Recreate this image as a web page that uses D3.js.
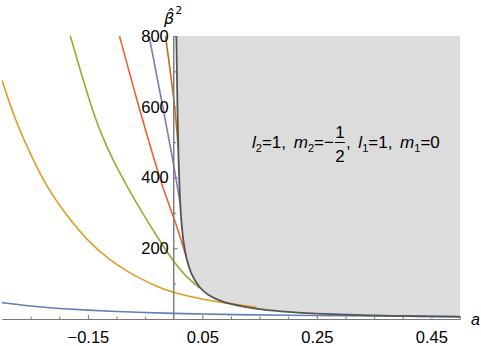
<!DOCTYPE html>
<html>
<head>
<meta charset="utf-8">
<script src="https://cdn.jsdelivr.net/npm/d3@7"></script>
<style>
  body { margin: 0; background: #fff; }
  svg { display: block; font-family: "Liberation Sans", Arial, sans-serif; }
</style>
</head>
<body>
<div id="chart"></div>
<script>
// curves: [a, beta^2]
const blueCurve = [[-0.3, 46], [-0.25, 36], [-0.2, 29.5], [-0.15, 25], [-0.1, 21], [-0.05, 18], [0, 16],
  [0.05, 14], [0.1, 12.5], [0.2, 10.5], [0.3, 9], [0.4, 7.5], [0.5, 6.5]];
const orangeCurve = [[-0.3, 675], [-0.277, 562], [-0.25, 465], [-0.22, 366], [-0.18, 278], [-0.146, 214],
  [-0.114, 169], [-0.08, 133], [-0.059, 115], [-0.03, 92], [0, 74], [0.045, 57], [0.09, 45], [0.13, 36], [0.145, 33]];
const greenCurve = [[-0.181, 802], [-0.169, 735], [-0.146, 610], [-0.13, 535], [-0.108, 454], [-0.0795, 369],
  [-0.055, 300], [-0.03, 235], [0.0005, 160], [0.02, 122], [0.045, 88]];
const redCurve = [[-0.0951, 802], [-0.08, 712], [-0.062, 605], [-0.036, 460], [-0.018, 365], [0.0017, 280],
  [0.012, 227], [0.022, 176]];
const purpleCurve = [[-0.0431, 800], [-0.0222, 626], [-0.0012, 449], [0.011, 328]];
const brownCurve = [[-0.0145, 802], [-0.0061, 700], [0.0022, 599], [0.0079, 483]];
const envelope = [[0.0045, 800], [0.0055, 700], [0.0065, 590], [0.0078, 480], [0.0105, 345], [0.0134, 270],
  [0.017, 215], [0.022, 170], [0.03, 127], [0.045, 87], [0.06, 67], [0.08, 52], [0.1, 42], [0.12, 35],
  [0.15, 27], [0.2, 19.5], [0.25, 15], [0.3, 12], [0.35, 10], [0.4, 8.5], [0.45, 7.3], [0.5, 6.3]];

const xMajor = [-0.15, 0.05, 0.25, 0.45];
const xMinor = [-0.25, -0.2, -0.1, -0.05, 0.1, 0.15, 0.2, 0.3, 0.35, 0.4, 0.5];
const yMajor = [200, 400, 600, 800];
const yMinor = [100, 300, 500, 700];

const series = [
  { pts: blueCurve, color: '#5E81B5' },
  { pts: orangeCurve, color: '#E19C24' },
  { pts: greenCurve, color: '#8FB032' },
  { pts: redCurve, color: '#EB6235' },
  { pts: purpleCurve, color: '#8778B3' },
  { pts: brownCurve, color: '#C56E1A' }
];

const width = 481, height = 346;
const x = d3.scaleLinear().domain([-0.3, 0.5]).range([2, 460]);
const y = d3.scaleLinear().domain([0, 800]).range([319, 36]);

const svg = d3.select('#chart').append('svg')
  .attr('width', width)
  .attr('height', height);

svg.append('clipPath').attr('id', 'plot')
  .append('rect')
  .attr('x', x(-0.3)).attr('y', y(800))
  .attr('width', x(0.5) - x(-0.3)).attr('height', y(0) - y(800));

// shaded region above the envelope
const area = d3.area()
  .x(d => x(d[0]))
  .y0(y(800))
  .y1(d => y(d[1]))
  .curve(d3.curveBasis);

svg.append('path')
  .datum(envelope)
  .attr('clip-path', 'url(#plot)')
  .attr('fill', '#dcdcdc')
  .attr('d', area);

const line = d3.line()
  .x(d => x(d[0]))
  .y(d => y(d[1]))
  .curve(d3.curveBasis);

const plot = svg.append('g').attr('clip-path', 'url(#plot)');

plot.selectAll('path.curve')
  .data(series)
  .enter()
  .append('path')
  .attr('class', 'curve')
  .attr('fill', 'none')
  .attr('stroke', d => d.color)
  .attr('stroke-width', 1.6)
  .attr('d', d => line(d.pts));

plot.append('path')
  .datum(envelope)
  .attr('fill', 'none')
  .attr('stroke', '#555')
  .attr('stroke-width', 1.8)
  .attr('d', line);

// axes, ticks pointing inward like Mathematica
const axisColor = '#777';

const xAxis = svg.append('g').attr('transform', `translate(0,${y(0)})`);
xAxis.call(d3.axisBottom(x).tickValues(xMajor).tickSizeInner(-4).tickSizeOuter(0)
  .tickPadding(12).tickFormat(d3.format('.2f')));
xAxis.append('g').call(d3.axisBottom(x).tickValues(xMinor).tickSizeInner(-2.5).tickSizeOuter(0)
  .tickFormat(''));

const yAxis = svg.append('g').attr('transform', `translate(${x(0)},0)`);
yAxis.call(d3.axisLeft(y).tickValues(yMajor).tickSizeInner(-4).tickSizeOuter(0).tickPadding(5));
yAxis.append('g').call(d3.axisLeft(y).tickValues(yMinor).tickSizeInner(-2.5).tickSizeOuter(0)
  .tickFormat(''));

svg.selectAll('.domain').attr('stroke', axisColor);
svg.selectAll('.tick line').attr('stroke', axisColor);
svg.selectAll('.tick text').attr('font-size', 16.5).attr('fill', '#000')
  .style('font-family', '"Liberation Sans", Arial, sans-serif');
yAxis.selectAll('.domain').attr('d', `M0,${y(0)}V${y(800)}`);

// axis titles
svg.append('text')
  .attr('x', 471).attr('y', 325)
  .attr('font-size', 16).attr('font-style', 'italic')
  .text('a');

const yTitle = svg.append('text')
  .attr('x', 164).attr('y', 24)
  .style('font-family', '"DejaVu Sans", sans-serif')
  .attr('font-size', 16);
yTitle.append('tspan').attr('font-style', 'italic').text('β\u0302');
yTitle.append('tspan').attr('font-size', 11).attr('dx', 1).attr('dy', -10).text('2');

// parameter label
const label = svg.append('g').attr('font-size', 17);
const part1 = label.append('text').attr('x', 252).attr('y', 148);
part1.append('tspan').attr('font-style', 'italic').text('l');
part1.append('tspan').attr('font-size', 11).attr('dy', 4).text('2');
part1.append('tspan').attr('dy', -4).text('=1,\u00a0');
part1.append('tspan').attr('dx', 3).attr('font-style', 'italic').text('m');
part1.append('tspan').attr('font-size', 11).attr('dy', 4).text('2');
part1.append('tspan').attr('dy', -4).text('=−');

const fx = 252 + part1.node().getComputedTextLength() + 4;
label.append('text').attr('x', fx + 5).attr('y', 138).attr('text-anchor', 'middle').text('1');
label.append('line')
  .attr('x1', fx).attr('x2', fx + 10)
  .attr('y1', 142.5).attr('y2', 142.5)
  .attr('stroke', '#000').attr('stroke-width', 1);
label.append('text').attr('x', fx + 5).attr('y', 162).attr('text-anchor', 'middle').text('2');

const part2 = label.append('text').attr('x', fx + 11).attr('y', 148);
part2.append('tspan').text(',\u00a0');
part2.append('tspan').attr('dx', 3).attr('font-style', 'italic').text('l');
part2.append('tspan').attr('font-size', 11).attr('dy', 4).text('1');
part2.append('tspan').attr('dy', -4).text('=1,\u00a0');
part2.append('tspan').attr('dx', 3).attr('font-style', 'italic').text('m');
part2.append('tspan').attr('font-size', 11).attr('dy', 4).text('1');
part2.append('tspan').attr('dy', -4).text('=0');
</script>
</body>
</html>
